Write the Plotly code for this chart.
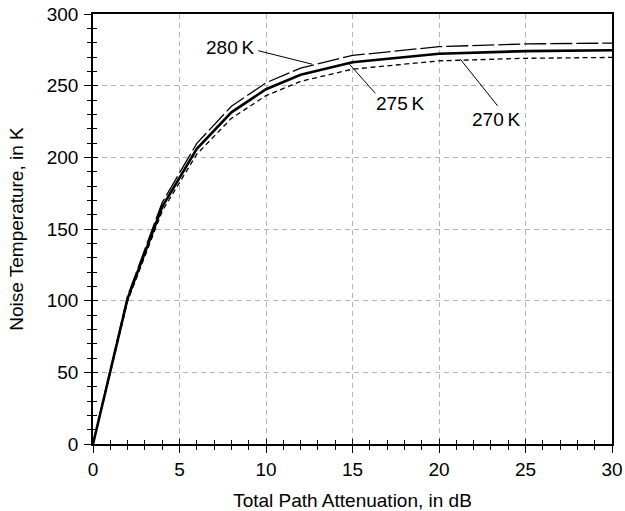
import plotly.graph_objects as go

# Total path attenuation (dB)
attenuation_db = [0, 2, 4, 6, 8, 10, 12, 15, 20, 25, 30]
# Noise temperature (K) for each mean medium temperature
temp_280 = [0, 103.3, 168.5, 209.7, 235.6, 252.0, 262.3, 271.1, 277.2, 279.1, 279.7]
temp_275 = [0, 101.5, 165.5, 206.0, 231.4, 247.5, 257.6, 266.3, 272.3, 274.1, 274.7]
temp_270 = [0, 99.6, 162.5, 202.2, 227.2, 243.0, 253.0, 261.5, 267.3, 269.1, 269.7]

series_names = ["280\u2009K", "275\u2009K", "270\u2009K"]

FONT = "Liberation Sans, Arial, Helvetica, sans-serif"

fig = go.Figure()
fig.add_trace(go.Scatter(x=attenuation_db, y=temp_270, mode="lines", name=series_names[2],
                         line=dict(color="black", width=1.3, dash="5px,3.5px")))
fig.add_trace(go.Scatter(x=attenuation_db, y=temp_280, mode="lines", name=series_names[0],
                         line=dict(color="black", width=1.3, dash="22px,4px")))
fig.add_trace(go.Scatter(x=attenuation_db, y=temp_275, mode="lines", name=series_names[1],
                         line=dict(color="black", width=2.6)))
# invisible trace so the overlay axes (inside ticks) are drawn
fig.add_trace(go.Scatter(x=attenuation_db, y=temp_275, mode="lines", xaxis="x2", yaxis="y2",
                         line=dict(color="rgba(0,0,0,0)"), hoverinfo="skip", showlegend=False))

# label leader lines
leaders = [
    ((9.55, 274.4), (12.66, 265.0)),
    ((14.77, 265.7), (16.32, 244.7)),
    ((21.23, 268.5), (23.39, 235.9)),
]
for (x0, y0), (x1, y1) in leaders:
    fig.add_shape(type="line", x0=x0, y0=y0, x1=x1, y1=y1, xref="x", yref="y",
                  line=dict(color="black", width=1))

labels = [
    (7.94, 276.3, series_names[0]),
    (17.76, 237.3, series_names[1]),
    (23.35, 226.6, series_names[2]),
]
for x, y, t in labels:
    fig.add_annotation(x=x, y=y, text=t, showarrow=False, xref="x", yref="y",
                       font=dict(family=FONT, size=19, color="black"))

axis_common = dict(showline=True, linecolor="black", linewidth=1.5, mirror=True,
                   ticks="outside", ticklen=7, tickwidth=1.3, tickcolor="black",
                   showgrid=True, gridcolor="#b3b3b3", gridwidth=1, griddash="5px,4px",
                   zeroline=False, tickfont=dict(family=FONT, size=19, color="black"),
                   automargin=False, ticklabeloverflow="allow")

fig.update_layout(
    width=625, height=511,
    margin=dict(l=93, r=13, t=14, b=67),
    plot_bgcolor="white", paper_bgcolor="white",
    showlegend=False,
    font=dict(family=FONT, color="black"),
    xaxis=dict(range=[0, 30], dtick=5, tick0=0, ticklabelstandoff=0,
               minor=dict(dtick=1, ticks="outside", ticklen=4, tickwidth=1.2,
                          tickcolor="black", showgrid=False),
               title=dict(text="Total Path Attenuation, in dB",
                          font=dict(family=FONT, size=19, color="black"), standoff=15),
               **axis_common),
    yaxis=dict(range=[0, 300], dtick=50, tick0=0, ticklabelstandoff=2,
               minor=dict(dtick=10, ticks="outside", ticklen=4, tickwidth=1.2,
                          tickcolor="black", showgrid=False),
               title=dict(text="Noise Temperature, in K",
                          font=dict(family=FONT, size=19, color="black"), standoff=18),
               **axis_common),
    xaxis2=dict(overlaying="x", matches="x", side="bottom", anchor="y2",
                range=[0, 30], dtick=5, tick0=0, ticks="inside", ticklen=5,
                tickwidth=1.3, tickcolor="black", showticklabels=False,
                showgrid=False, showline=False, zeroline=False, automargin=False,
                minor=dict(dtick=1, ticks="inside", ticklen=4, tickwidth=1.2,
                           tickcolor="black", showgrid=False)),
    yaxis2=dict(overlaying="y", matches="y", side="left", anchor="x2",
                range=[0, 300], dtick=50, tick0=0, ticks="inside", ticklen=5,
                tickwidth=1.3, tickcolor="black", showticklabels=False,
                showgrid=False, showline=False, zeroline=False, automargin=False,
                minor=dict(dtick=10, ticks="inside", ticklen=4, tickwidth=1.2,
                           tickcolor="black", showgrid=False)),
)

# remove the default page margin so the figure sits at the window's corner
fig.write_html("out.html", config={"displayModeBar": False},
               post_script="document.body.style.margin='0';document.body.style.overflow='hidden';")
